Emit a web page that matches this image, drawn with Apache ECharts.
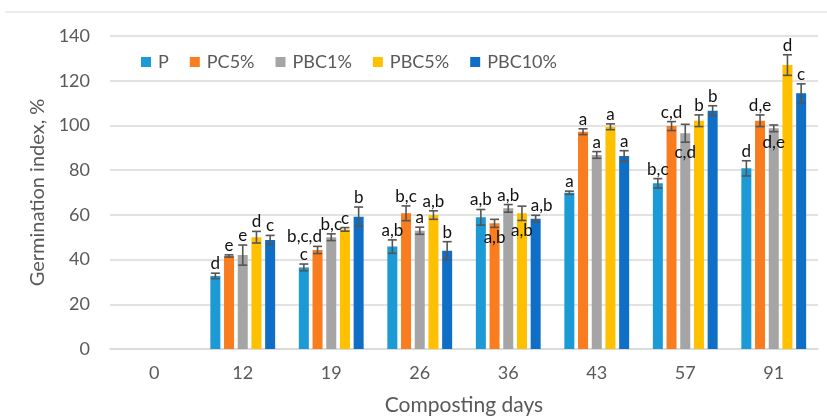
<!DOCTYPE html>
<html>
<head>
<meta charset="utf-8">
<style>
  html, body { margin: 0; padding: 0; background: #fff; }
  #chart { width: 827px; height: 419px; }
</style>
<script src="https://cdn.jsdelivr.net/npm/echarts@6/dist/echarts.min.js"></script>
</head>
<body>
<div id="chart"></div>
<script>
// Composting days (x categories)
const days = ['0', '12', '19', '26', '36', '43', '57', '91'];
const seriesNames = ['P', 'PC5%', 'PBC1%', 'PBC5%', 'PBC10%'];

// Mean germination index, %
const valP     = [null, 32.7, 36.5, 45.8, 58.9, 69.9, 74.1, 80.8];
const valPC5   = [null, 41.6, 44.3, 60.7, 56.2, 97.2, 99.7, 102.1];
const valPBC1  = [null, 42.0, 50.0, 52.9, 62.9, 86.8, 96.5, 98.7];
const valPBC5  = [null, 50.0, 53.5, 59.9, 60.7, 99.4, 102.1, 127.0];
const valPBC10 = [null, 48.8, 59.2, 44.0, 58.3, 86.3, 106.6, 114.4];

// Standard deviations
const errP     = [null, 1.2, 1.5, 3.0, 3.5, 0.7, 2.1, 3.4];
const errPC5   = [null, 0.5, 1.6, 3.3, 1.8, 1.3, 2.0, 2.6];
const errPBC1  = [null, 4.5, 1.5, 1.6, 1.7, 1.5, 4.0, 1.5];
const errPBC5  = [null, 2.6, 0.8, 1.9, 3.2, 1.3, 2.6, 4.6];
const errPBC10 = [null, 2.0, 4.3, 4.0, 1.5, 2.4, 2.2, 4.2];

// Significance letters
const sigP     = ['', 'd', 'c', 'a,b', 'a,b', 'a', 'b,c', 'd'];
const sigPC5   = ['', 'e', 'b,c,d', 'b,c', 'a,b', 'a', 'c,d', 'd,e'];
const sigPBC1  = ['', 'e', 'b,c', 'a', 'a,b', 'a', 'c,d', 'd,e'];
const sigPBC5  = ['', 'd', 'c', 'a,b', 'a,b', 'a', 'b', 'd'];
const sigPBC10 = ['', 'c', 'b', 'b', 'a,b', 'a', 'b', 'c'];

// Letters written under the error bar instead of above it
const sigBelowPC5  = [4];
const sigBelowPBC1 = [6, 7];
const sigBelowPBC5 = [4];

const values = [valP, valPC5, valPBC1, valPBC5, valPBC10];
const errors = [errP, errPC5, errPBC1, errPBC5, errPBC10];
const letters = [sigP, sigPC5, sigPBC1, sigPBC5, sigPBC10];
const below = [[], sigBelowPC5, sigBelowPBC1, sigBelowPBC5, []];
const colors = ['#1B9AD6', '#F97C1E', '#A5A5A5', '#FFC000', '#0F6EC6'];

// Sideways nudges (px) for crowded letters, keyed "series:category"
const labelNudge = { '1:2': -13, '4:4': 6 };

const BAR_W = 10;
const BAR_GAP = 0.37;
const PITCH = BAR_W * (1 + BAR_GAP);
const FONT = 'Lato, "Liberation Sans", sans-serif';

const chart = echarts.init(document.getElementById('chart'));

const series = [];
seriesNames.forEach((name, s) => {
  series.push({
    name: name,
    type: 'bar',
    barWidth: BAR_W,
    barGap: (BAR_GAP * 100) + '%',
    itemStyle: { color: colors[s] },
    data: values[s],
    z: 2
  });
});
seriesNames.forEach((name, s) => {
  const data = [];
  values[s].forEach((v, i) => {
    if (v != null) data.push([i, v, errors[s][i]]);
  });
  series.push({
    type: 'custom',
    name: name,
    z: 5,
    silent: true,
    data: data,
    renderItem: function (params, api) {
      const cat = api.value(0), v = api.value(1), e = api.value(2);
      const cx = api.coord([cat, 0])[0] + (s - 2) * PITCH;
      const yHi = api.coord([cat, v + e])[1];
      const yLo = api.coord([cat, v - e])[1];
      const lineStyle = { stroke: '#555555', lineWidth: 1.6 };
      const isBelow = below[s].indexOf(cat) >= 0;
      const dx = labelNudge[s + ':' + cat] || 0;
      return {
        type: 'group',
        children: [
          { type: 'line', shape: { x1: cx, y1: yHi, x2: cx, y2: yLo }, style: lineStyle },
          { type: 'line', shape: { x1: cx - 4.5, y1: yHi, x2: cx + 4.5, y2: yHi }, style: lineStyle },
          { type: 'line', shape: { x1: cx - 4.5, y1: yLo, x2: cx + 4.5, y2: yLo }, style: lineStyle },
          {
            type: 'text',
            style: {
              text: letters[s][cat],
              x: cx + dx,
              y: isBelow ? yLo + 2 : yHi - 1,
              align: 'center',
              verticalAlign: isBelow ? 'top' : 'bottom',
              fontSize: 17,
              fontFamily: FONT,
              fill: '#111111'
            }
          }
        ]
      };
    }
  });
});

chart.setOption({
  animation: false,
  backgroundColor: '#ffffff',
  graphic: [{
    type: 'line',
    shape: { x1: 5, y1: 12, x2: 827, y2: 12 },
    style: { stroke: '#d9d9d9', lineWidth: 1 }
  }],
  legend: {
    data: seriesNames,
    left: 136,
    top: 48,
    itemWidth: 10,
    itemHeight: 10,
    itemGap: 21,
    icon: 'rect',
    textStyle: { color: '#595959', fontSize: 18, fontFamily: FONT, padding: [0, 0, 0, 2] }
  },
  grid: { left: 110, right: 9, top: 36, bottom: 70, containLabel: false, outerBoundsMode: 'none' },
  xAxis: {
    type: 'category',
    data: days,
    name: 'Composting days',
    nameLocation: 'middle',
    nameGap: 46,
    nameTextStyle: { color: '#595959', fontSize: 21, fontFamily: FONT },
    axisLine: { lineStyle: { color: '#d9d9d9', width: 1.5 } },
    axisTick: { show: false },
    axisLabel: { color: '#595959', fontSize: 18, fontFamily: FONT, margin: 15 }
  },
  yAxis: {
    type: 'value',
    min: 0,
    max: 140,
    interval: 20,
    name: 'Germination index, %',
    nameLocation: 'middle',
    nameGap: 62,
    nameTextStyle: { color: '#595959', fontSize: 20, fontFamily: FONT },
    axisLine: { show: false },
    axisTick: { show: false },
    axisLabel: { color: '#595959', fontSize: 18, fontFamily: FONT, margin: 20 },
    splitLine: { lineStyle: { color: '#d9d9d9', width: 1.5 } }
  },
  series: series
});
</script>
</body>
</html>
